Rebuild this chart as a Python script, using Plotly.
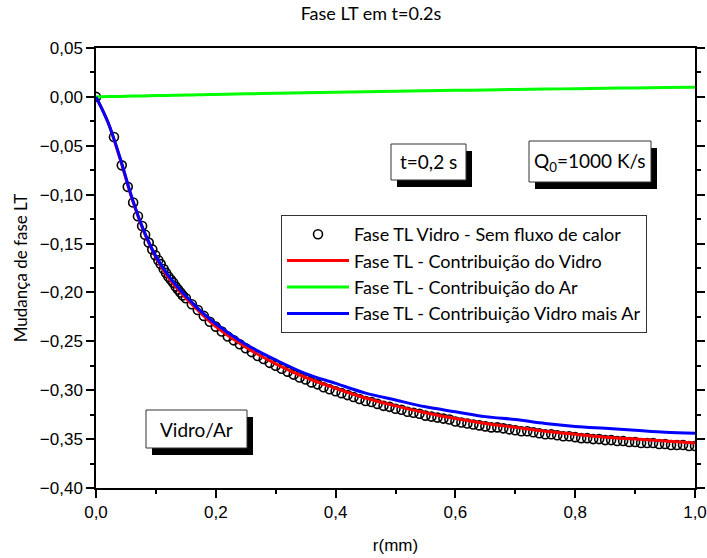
import plotly.graph_objects as go

# ---- data -------------------------------------------------------------
# Fase TL Vidro - Sem fluxo de calor (open circles)
r_sem_fluxo = [0.000, 0.030, 0.043, 0.053, 0.062, 0.070, 0.077, 0.082, 0.088, 0.094,
               0.099, 0.104, 0.108, 0.113, 0.117, 0.121, 0.125, 0.129, 0.133, 0.137,
               0.141, 0.145, 0.150,
               0.16, 0.17, 0.18, 0.19, 0.20, 0.21, 0.22, 0.23, 0.24, 0.25,
               0.26, 0.27, 0.28, 0.29, 0.30, 0.31, 0.32, 0.33, 0.34, 0.35,
               0.36, 0.37, 0.38, 0.39, 0.40, 0.41, 0.42, 0.43, 0.44, 0.45,
               0.46, 0.47, 0.48, 0.49, 0.50, 0.51, 0.52, 0.53, 0.54, 0.55,
               0.56, 0.57, 0.58, 0.59, 0.60, 0.61, 0.62, 0.63, 0.64, 0.65,
               0.66, 0.67, 0.68, 0.69, 0.70, 0.71, 0.72, 0.73, 0.74, 0.75,
               0.76, 0.77, 0.78, 0.79, 0.80, 0.81, 0.82, 0.83, 0.84, 0.85,
               0.86, 0.87, 0.88, 0.89, 0.90, 0.91, 0.92, 0.93, 0.94, 0.95,
               0.96, 0.97, 0.98, 0.99, 1.00]
fase_sem_fluxo = [0.000, -0.041, -0.070, -0.092, -0.108, -0.122, -0.132, -0.141, -0.149, -0.156,
                  -0.162, -0.167, -0.171, -0.176, -0.180, -0.184, -0.187, -0.190, -0.194, -0.197,
                  -0.200, -0.203, -0.206,
                  -0.212, -0.218, -0.224, -0.230, -0.235, -0.240, -0.245, -0.249, -0.253, -0.257,
                  -0.261, -0.265, -0.268, -0.272, -0.275, -0.278, -0.281, -0.284, -0.287, -0.289,
                  -0.292, -0.294, -0.297, -0.299, -0.301, -0.303, -0.305, -0.307, -0.309, -0.311,
                  -0.312, -0.314, -0.316, -0.317, -0.319, -0.320, -0.322, -0.323, -0.324, -0.326,
                  -0.327, -0.328, -0.329, -0.330, -0.332, -0.333, -0.334, -0.335, -0.336, -0.337,
                  -0.338, -0.338, -0.339, -0.340, -0.341, -0.342, -0.342, -0.343, -0.344, -0.345,
                  -0.345, -0.346, -0.347, -0.347, -0.348, -0.349, -0.349, -0.350, -0.350, -0.351,
                  -0.351, -0.352, -0.352, -0.353, -0.353, -0.354, -0.354, -0.354, -0.355, -0.355,
                  -0.356, -0.356, -0.356, -0.357, -0.357]

# radial grid shared by the three contribution curves
r_curvas = [0.00, 0.02, 0.04, 0.06, 0.08, 0.10, 0.12, 0.14, 0.16, 0.18, 0.20,
            0.25, 0.30, 0.35, 0.40, 0.45, 0.50, 0.55, 0.60, 0.65, 0.70,
            0.75, 0.80, 0.85, 0.90, 0.95, 1.00]
fase_vidro = [0.000, -0.026, -0.063, -0.104, -0.138, -0.164, -0.184, -0.199, -0.212, -0.224, -0.235,
              -0.256, -0.273, -0.287, -0.298, -0.308, -0.316, -0.323, -0.329, -0.334, -0.338,
              -0.342, -0.345, -0.348, -0.350, -0.352, -0.354]
fase_ar = [0.0000, 0.0003, 0.0005, 0.0008, 0.0010, 0.0013, 0.0015, 0.0018, 0.0020, 0.0023, 0.0025,
           0.0031, 0.0036, 0.0042, 0.0047, 0.0052, 0.0057, 0.0062, 0.0067, 0.0071, 0.0076,
           0.0080, 0.0084, 0.0088, 0.0092, 0.0096, 0.0099]
fase_vidro_ar = [0.000, -0.026, -0.062, -0.103, -0.137, -0.163, -0.182, -0.197, -0.210, -0.222, -0.232,
                 -0.253, -0.269, -0.283, -0.293, -0.303, -0.310, -0.317, -0.322, -0.327, -0.330,
                 -0.334, -0.337, -0.339, -0.341, -0.343, -0.344]

nomes = ["Fase TL Vidro - Sem fluxo de calor",
         "Fase TL - Contribuição do Vidro",
         "Fase TL - Contribuição do Ar",
         "Fase TL - Contribuição Vidro mais Ar"]

x_ticks = [0.0, 0.2, 0.4, 0.6, 0.8, 1.0]
y_ticks = [0.05, 0.00, -0.05, -0.10, -0.15, -0.20, -0.25, -0.30, -0.35, -0.40]

# ---- page geometry (px) ---------------------------------------------
W, H = 707, 558
L, R, T, B = 96, 12, 48, 70
PW, PH = W - L - R, H - T - B


def px(x):
    return (x - L) / PW


def py(y):
    return (H - B - y) / PH


LABEL_FONT = "Lato, 'Open Sans', sans-serif"
TICK_FONT = "'Liberation Sans', Arial, sans-serif"

fig = go.Figure()

fig.add_trace(go.Scatter(
    x=r_sem_fluxo, y=fase_sem_fluxo, mode="markers", name=nomes[0],
    legendgroup="g0",
    marker=dict(symbol="circle-open", size=9, color="black", line=dict(width=1.6, color="black")),
))
fig.add_trace(go.Scatter(
    x=r_curvas, y=fase_vidro, mode="lines", name=nomes[1], legendgroup="g1",
    line=dict(color="#ff0000", width=3, shape="spline"),
))
fig.add_trace(go.Scatter(
    x=r_curvas, y=fase_ar, mode="lines", name=nomes[2], legendgroup="g2",
    line=dict(color="#00ff00", width=3, shape="spline"),
))
fig.add_trace(go.Scatter(
    x=r_curvas, y=fase_vidro_ar, mode="lines", name=nomes[3], legendgroup="g3",
    line=dict(color="#0000ff", width=3, shape="spline"),
))

# text boxes with drop shadow: (left, top, right, bottom, text)
caixas = [
    (391, 144, 466, 180, "t=0,2 s"),
    (529, 141, 651, 182, "Q<sub>0</sub>=1000 K/s"),
    (146, 410, 247, 448, "Vidro/Ar"),
]
shapes = []
annotations = []
for x0, y0, x1, y1, txt in caixas:
    shapes.append(dict(type="rect", xref="paper", yref="paper", layer="above",
                       x0=px(x0 + 6), x1=px(x1 + 6), y0=py(y1 + 7), y1=py(y0 + 7),
                       fillcolor="black", line=dict(width=0)))
    shapes.append(dict(type="rect", xref="paper", yref="paper", layer="above",
                       x0=px(x0), x1=px(x1), y0=py(y1), y1=py(y0),
                       fillcolor="white", line=dict(width=1, color="#333333")))
    annotations.append(dict(xref="paper", yref="paper", x=px((x0 + x1) / 2), y=py((y0 + y1) / 2),
                            text=txt, showarrow=False, xanchor="center", yanchor="middle",
                            font=dict(family=LABEL_FONT, size=19, color="black")))

fig.update_layout(
    width=W, height=H,
    margin=dict(l=L, r=R, t=T, b=B, autoexpand=False),
    paper_bgcolor="white", plot_bgcolor="white",
    separators=", ",
    title=dict(text="Fase LT em t=0.2s", xref="container", x=371 / W, xanchor="center",
               yref="container", y=1 - 14 / H, yanchor="middle",
               font=dict(family=LABEL_FONT, size=18, color="black")),
    showlegend=True,
    legend=dict(x=px(281), y=py(215), xanchor="left", yanchor="top",
                bgcolor="white", bordercolor="#333333", borderwidth=1,
                tracegroupgap=0, itemwidth=62,
                font=dict(family=LABEL_FONT, size=18, color="black")),
    shapes=shapes,
    annotations=annotations,
)

fig.update_xaxes(
    range=[0, 1], tickvals=x_ticks, tickformat=".1f", automargin=False,
    ticks="outside", ticklen=8, tickwidth=1.5, tickcolor="black",
    minor=dict(dtick=0.1, ticks="outside", ticklen=4, tickwidth=1.5, tickcolor="black"),
    showline=True, linecolor="black", linewidth=1.5, mirror=True,
    showgrid=False, zeroline=False,
    tickfont=dict(family=TICK_FONT, size=17, color="black"),
    title=dict(text="r(mm)", font=dict(family=TICK_FONT, size=17, color="black"), standoff=18),
)
fig.update_yaxes(
    range=[-0.40, 0.05], tickvals=y_ticks, tickformat=".2f", automargin=False,
    ticks="outside", ticklen=8, tickwidth=1.5, tickcolor="black",
    minor=dict(dtick=0.025, tick0=0, ticks="outside", ticklen=4, tickwidth=1.5, tickcolor="black"),
    showline=True, linecolor="black", linewidth=1.5, mirror="ticks",
    showgrid=False, zeroline=False,
    tickfont=dict(family=TICK_FONT, size=17, color="black"),
    title=dict(text="Mudança de fase LT", font=dict(family=LABEL_FONT, size=17, color="black"), standoff=8),
)

fig.write_html("out.html")
